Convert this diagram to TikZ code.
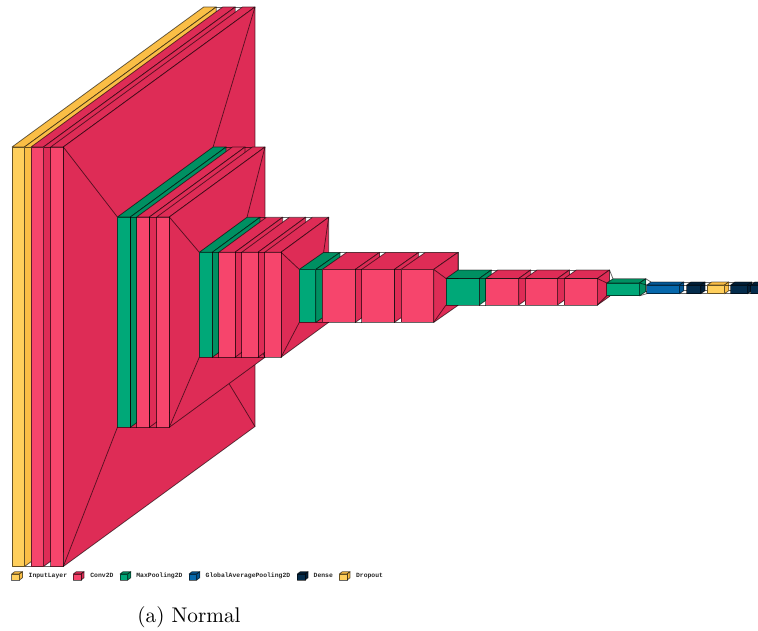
\documentclass[tikz,border=0pt]{standalone}
\usepackage{fontspec}
\usepackage{tikz}
\usetikzlibrary{calc}
\newfontfamily\legendfont{Liberation Mono}[BoldFont={Liberation Mono Bold}]
\definecolor{inputfront}{RGB}{255,207,92}
\definecolor{inputside}{RGB}{250,190,70}
\definecolor{convfront}{RGB}{246,69,108}
\definecolor{convside}{RGB}{222,44,86}
\definecolor{poolfront}{RGB}{0,168,120}
\definecolor{poolside}{RGB}{0,144,98}
\definecolor{avgfront}{RGB}{6,104,172}
\definecolor{avgside}{RGB}{4,88,150}
\definecolor{densefront}{RGB}{4,44,76}
\definecolor{denseside}{RGB}{2,32,58}

% name, left, right, top, bottom, depth x, depth y
\newcommand{\layerpoints}[7]{
    \coordinate (#1ftl) at (#2,#4);
    \coordinate (#1ftr) at (#3,#4);
    \coordinate (#1fbl) at (#2,#5);
    \coordinate (#1fbr) at (#3,#5);
    \coordinate (#1btl) at (#2+#6,#4-#7);
    \coordinate (#1btr) at (#3+#6,#4-#7);
    \coordinate (#1bbl) at (#2+#6,#5-#7);
    \coordinate (#1bbr) at (#3+#6,#5-#7);
}
% name, kind
\newcommand{\layerfaces}[2]{
    \draw[layerline, fill=#2side] (#1ftl) -- (#1btl) -- (#1btr) -- (#1ftr) -- cycle;
    \draw[layerline, fill=#2side] (#1ftr) -- (#1btr) -- (#1bbr) -- (#1fbr) -- cycle;
    \draw[layerline, fill=#2front] (#1ftl) -- (#1ftr) -- (#1fbr) -- (#1fbl) -- cycle;
}
% box on its own: name, kind, then the sizes
\newcommand{\layerbox}[8]{
    \layerpoints{#1}{#3}{#4}{#5}{#6}{#7}{#8}
    \layerfaces{#1}{#2}
}
% box with lines back to the one before it: previous, name, kind, then the sizes
\newcommand{\nextbox}[9]{
    \layerpoints{#2}{#4}{#5}{#6}{#7}{#8}{#9}
    \draw[layerline] (#1ftr) -- (#2ftl);
    \draw[layerline] (#1fbr) -- (#2fbl);
    \draw[layerline] (#1btr) -- (#2btl);
    \draw[layerline] (#1bbr) -- (#2bbl);
    \layerfaces{#2}{#3}
}

\begin{document}
\begin{tikzpicture}[
    x=0.5pt, y=-0.5pt,
    layerline/.style={draw=black, draw opacity=0.6, line width=0.38pt, line join=round},
    legendtext/.style={anchor=west, inner sep=0pt, text=black!85,
                       font=\legendfont\bfseries\fontsize{3.2}{4}\selectfont},
    caption/.style={anchor=base, inner sep=0pt, font=\fontsize{10.6}{12}\selectfont}
]
\clip (0,0) rectangle (758,630);

% first block
\layerbox{a}{input}{12}{24.5}{147}{566.5}{191.7}{140}
\nextbox{a}{b}{conv}{31}{43.5}{147}{566.5}{191.7}{140}
\nextbox{b}{c}{conv}{50.7}{63.3}{147}{566.5}{191.7}{140}

% second block
\nextbox{c}{d}{pool}{117.4}{130.4}{217}{427.3}{95.7}{70}
\nextbox{d}{e}{conv}{136.7}{149.4}{217}{427.3}{95.7}{70}
\nextbox{e}{f}{conv}{156.7}{169.3}{217}{427.3}{95.7}{70}

% third block
\nextbox{f}{g}{pool}{199.3}{212.3}{252.3}{357.3}{47.7}{35}
\nextbox{g}{h}{conv}{218.7}{235}{252.3}{357.3}{47.7}{35}
\nextbox{h}{i}{conv}{241.7}{258}{252.3}{357.3}{47.7}{35}
\nextbox{i}{j}{conv}{264.7}{281}{252.3}{357.3}{47.7}{35}

% fourth block
\nextbox{j}{k}{pool}{299.3}{315.8}{269.4}{322.4}{24.3}{17}
\nextbox{k}{l}{conv}{322.3}{355.3}{269.4}{322.4}{24.3}{17}
\nextbox{l}{m}{conv}{361.7}{394.4}{269.4}{322.4}{24.3}{17}
\nextbox{m}{n}{conv}{401}{433.7}{269.4}{322.4}{24.3}{17}

% fifth block
\nextbox{n}{o}{pool}{446}{479.3}{278.5}{305}{12}{8.5}
\nextbox{o}{p}{conv}{485.7}{518.7}{278.5}{305}{12}{8.5}
\nextbox{p}{q}{conv}{525}{557.5}{278.5}{305}{12}{8.5}
\nextbox{q}{r}{conv}{564.3}{597.5}{278.5}{305}{12}{8.5}

% small layers at the end
\nextbox{r}{s}{pool}{606.7}{639.5}{283}{295.8}{6.3}{4.2}
\nextbox{s}{t}{avg}{646.7}{679.5}{285}{293.7}{4.3}{3}
\nextbox{t}{u}{dense}{686.7}{700.7}{285}{293.7}{4.3}{3}
\nextbox{u}{v}{input}{707.3}{724.5}{285}{293.7}{4.3}{3}
\nextbox{v}{w}{dense}{730.7}{747.5}{285}{293.7}{4.3}{3}
\nextbox{w}{x}{dense}{750.7}{767.5}{285}{293.7}{4.3}{3}

% legend
\layerbox{legA}{input}{11.7}{19.5}{574}{580}{3}{2.3}
\layerbox{legB}{conv}{73.3}{81.1}{574}{580}{3}{2.3}
\layerbox{legC}{pool}{120}{127.8}{574}{580}{3}{2.3}
\layerbox{legD}{avg}{189}{196.8}{574}{580}{3}{2.3}
\layerbox{legE}{dense}{297.3}{305.1}{574}{580}{3}{2.3}
\layerbox{legF}{input}{339.3}{347.1}{574}{580}{3}{2.3}

\node[legendtext] (inputlabel) at (28.3,575.7)  {InputLayer};
\node[legendtext] (convlabel)  at (90,575.7)    {Conv2D};
\node[legendtext] (poollabel)  at (136,575.7)   {MaxPooling2D};
\node[legendtext] (avglabel)   at (205.3,575.7) {GlobalAveragePooling2D};
\node[legendtext] (denselabel) at (313.3,575.7) {Dense};
\node[legendtext] (droplabel)  at (355.7,575.7) {Dropout};

\node[caption] (normal) at (189,622.5) {(a) Normal};
\end{tikzpicture}
\end{document}
